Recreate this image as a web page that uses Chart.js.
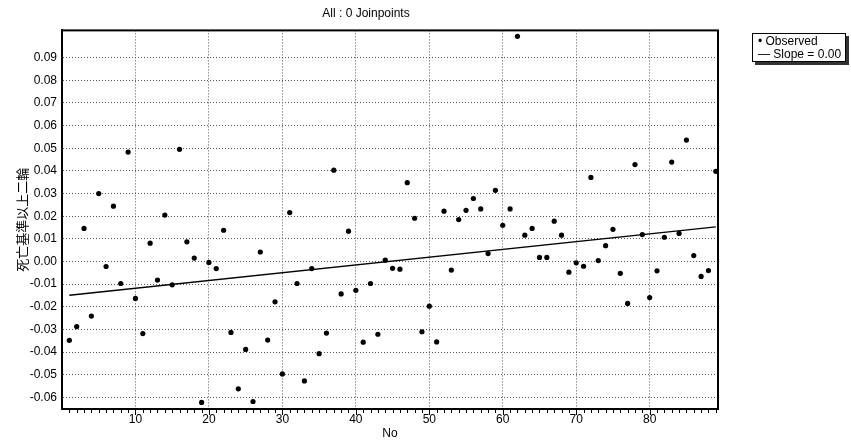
<!DOCTYPE html>
<html lang="ja">
<head>
    <meta charset="UTF-8">
    <title>All : 0 Joinpoints</title>
    <script src="https://cdn.jsdelivr.net/npm/chart.js"></script>
    <style>
        body { margin: 0; background: #fff; }
        #wrap { position: relative; width: 851px; height: 441px; }
        #legendBox {
            position: absolute; left: 752px; top: 33px; width: 94px; height: 29px;
            border: 1px solid #000; background: #fff; box-shadow: 3px 3px 0 #333;
            font: 12px 'Liberation Sans Narrow', 'Liberation Sans', Arial, sans-serif;
            line-height: 13px; padding: 1px 0 0 5px; box-sizing: border-box; color: #000;
            white-space: nowrap;
        }
    </style>
</head>
<body>
<div id="wrap">
    <canvas id="myChart" width="851" height="441"></canvas>
    <div id="legendBox">
        <div>&bull; Observed</div>
        <div>&mdash; Slope = 0.00</div>
    </div>
</div>
<script>
    // No (x) for each observed point
    const obsNo = [1, 2, 3, 4, 5, 6, 7, 8, 9, 10, 11, 12, 13, 14, 15, 16, 17, 18, 19, 20,
        21, 22, 23, 24, 25, 26, 27, 28, 29, 30, 31, 32, 33, 34, 35, 36, 37, 38, 39, 40,
        41, 42, 43, 44, 45, 46, 47, 48, 49, 50, 51, 52, 53, 54, 55, 56, 57, 58, 59, 60,
        61, 62, 63, 64, 65, 66, 67, 68, 69, 70, 71, 72, 73, 74, 75, 76, 77, 78, 79, 80,
        81, 82, 83, 84, 85, 86, 87, 88, 89];
    const obsValue = [-0.0348, -0.0287, 0.0146, -0.0241, 0.0300, -0.0022, 0.0244, -0.0097, 0.0483, -0.0163,
        -0.0318, 0.0081, -0.0082, 0.0205, -0.0103, 0.0495, 0.0087, 0.0015, -0.0622, -0.0004,
        -0.0031, 0.0138, -0.0313, -0.0562, -0.0388, -0.0618, 0.0042, -0.0347, -0.0178, -0.0496,
        0.0216, -0.0097, -0.0527, -0.0031, -0.0407, -0.0316, 0.0403, -0.0143, 0.0134, -0.0127,
        -0.0356, -0.0097, -0.0321, 0.0006, -0.0030, -0.0034, 0.0348, 0.0191, -0.0310, -0.0197,
        -0.0355, 0.0222, -0.0038, 0.0185, 0.0226, 0.0278, 0.0232, 0.0035, 0.0314, 0.0160,
        0.0232, 0.0994, 0.0116, 0.0146, 0.0018, 0.0018, 0.0178, 0.0116, -0.0047, -0.0006,
        -0.0021, 0.0371, 0.0004, 0.0070, 0.0142, -0.0052, -0.0185, 0.0428, 0.0119, -0.0159,
        -0.0041, 0.0107, 0.0439, 0.0124, 0.0536, 0.0026, -0.0066, -0.0040, 0.0398];
    // fitted line (0 joinpoints), end points
    const fitNo = [1, 89];
    const fitValue = [-0.0149, 0.0153];

    const xTickValues = [10, 20, 30, 40, 50, 60, 70, 80];
    const yTickValues = [-0.06, -0.05, -0.04, -0.03, -0.02, -0.01, 0.00, 0.01, 0.02, 0.03, 0.04, 0.05, 0.06, 0.07, 0.08, 0.09];

    const fontFam = "'Liberation Sans Narrow', 'Liberation Sans', Arial, sans-serif";

    const observedPoints = obsNo.map((n, i) => ({ x: n, y: obsValue[i] }));
    const fitPoints = fitNo.map((n, i) => ({ x: n, y: fitValue[i] }));

    // frame round the plot + small ticks every unit on the x axis
    const framePlugin = {
        id: 'frame',
        afterDraw(chart) {
            const { ctx, chartArea: a, scales: { x } } = chart;
            ctx.save();
            ctx.strokeStyle = '#000';
            ctx.lineWidth = 2;
            ctx.strokeRect(a.left, a.top, a.right - a.left, a.bottom - a.top);
            ctx.lineWidth = 1;
            ctx.beginPath();
            for (let v = 1; v <= 89; v++) {
                const px = Math.round(x.getPixelForValue(v)) + 0.5;
                ctx.moveTo(px, a.bottom + 1);
                ctx.lineTo(px, a.bottom + (v % 10 === 0 ? 6 : 4));
            }
            ctx.stroke();
            ctx.restore();
        }
    };

    const ctx = document.getElementById('myChart');
    const myChart = new Chart(ctx, {
        type: 'scatter',
        data: {
            datasets: [
                {
                    label: 'Observed',
                    data: observedPoints,
                    backgroundColor: '#000',
                    borderColor: '#000',
                    pointRadius: 2.6,
                    pointBorderWidth: 0,
                    showLine: false,
                },
                {
                    label: 'Slope = 0.00',
                    data: fitPoints,
                    borderColor: '#000',
                    borderWidth: 1.3,
                    pointRadius: 0,
                    showLine: true,
                },
            ],
        },
        options: {
            responsive: false,
            devicePixelRatio: 1,
            animation: false,
            layout: { padding: { left: 14, right: 133, top: 4, bottom: 0 } },
            plugins: {
                legend: { display: false },
                tooltip: { enabled: false },
                title: {
                    display: true,
                    text: 'All : 0 Joinpoints',
                    color: '#000',
                    font: { family: fontFam, size: 12, weight: 'normal' },
                    padding: { top: 2, bottom: 10 },
                },
            },
            scales: {
                x: {
                    type: 'linear',
                    min: 0,
                    max: 89.3,
                    afterBuildTicks: (scale) => { scale.ticks = xTickValues.map(v => ({ value: v })); },
                    afterFit: (scale) => { scale.height = 32; },
                    grid: { color: '#555', lineWidth: 1, drawTicks: false },
                    border: { display: true, color: '#000', width: 2, dash: [1, 2] },
                    ticks: {
                        color: '#000', padding: 3, maxRotation: 0,
                        font: { family: fontFam, size: 12 },
                    },
                    title: {
                        display: true, text: 'No', color: '#000',
                        font: { family: fontFam, size: 12 }, padding: { top: -2, bottom: 0 },
                    },
                },
                y: {
                    type: 'linear',
                    min: -0.0651,
                    max: 0.102,
                    afterBuildTicks: (scale) => { scale.ticks = yTickValues.map(v => ({ value: v })); },
                    afterFit: (scale) => { scale.width = 48; },
                    grid: { color: '#555', lineWidth: 1, drawTicks: false },
                    border: { display: true, color: '#000', width: 2, dash: [1, 2] },
                    ticks: {
                        color: '#000', padding: 5,
                        font: { family: fontFam, size: 12 },
                        callback: (v) => Number(v).toFixed(2),
                    },
                    title: {
                        display: true, text: '死亡基準以上二輪', color: '#000',
                        font: { family: "'Noto Sans CJK JP', sans-serif", size: 13 },
                        padding: { top: 0, bottom: 0 },
                    },
                },
            },
        },
        plugins: [framePlugin],
    });
</script>
</body>
</html>
